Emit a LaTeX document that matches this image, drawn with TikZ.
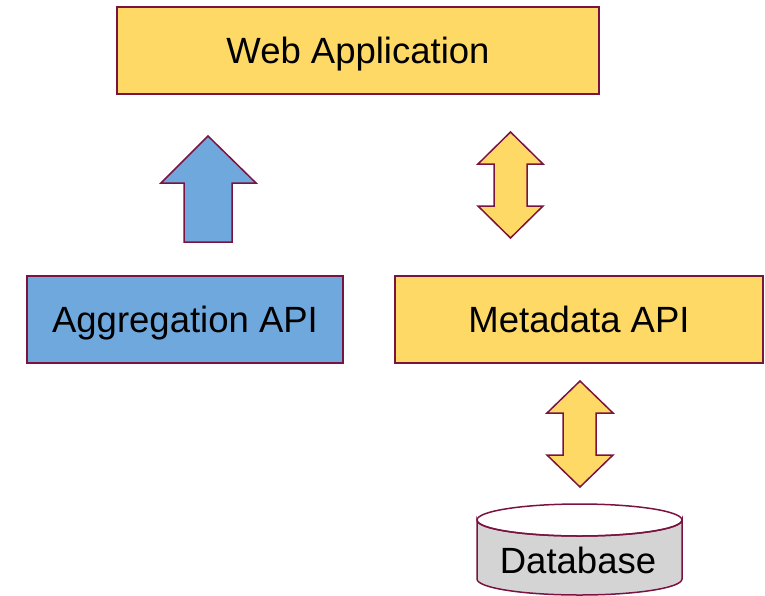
\documentclass[tikz,border=0pt]{standalone}
\usepackage{fontspec}
\setmainfont{Liberation Sans}
\definecolor{edge}{HTML}{7B1340}
\definecolor{gold}{HTML}{FFD966}
\definecolor{sky}{HTML}{6FA8DC}
\definecolor{dbgray}{HTML}{D4D4D4}
\begin{document}
\begin{tikzpicture}[x=1pt,y=-1pt,
  box/.style={draw=edge, line width=1.5pt, inner sep=0pt, outer sep=0pt, minimum height=87pt},
  lbl/.style={font=\fontsize{36.5}{40}\selectfont, text height=26pt, text depth=0pt},
  blockarrow/.style={draw=edge, line width=1.5pt, line join=miter}]
\useasboundingbox (0,0) rectangle (765,595);
\node[box, fill=gold, minimum width=482pt, lbl] (web) at (358,50.5) {Web Application};
\node[box, fill=sky, minimum width=316pt, lbl] (agg) at (185,319.5) {Aggregation API};
\node[box, fill=gold, minimum width=368pt, lbl] (meta) at (579,319.5) {Metadata API};
% up arrow
\draw[blockarrow, fill=sky] (208,136) -- (256,183) -- (232,183) -- (232,242) -- (184,242) -- (184,183) -- (161,183) -- cycle;
% double arrow web <-> metadata
\draw[blockarrow, fill=gold] (510.5,132) -- (543,164) -- (527,164) -- (527,206) -- (543,206) -- (510.5,238) -- (478,206) -- (494,206) -- (494,164) -- (478,164) -- cycle;
% double arrow metadata <-> database
\draw[blockarrow, fill=gold] (580,381) -- (613,413) -- (596,413) -- (596,455) -- (613,455) -- (580,487) -- (547,455) -- (563,455) -- (563,413) -- (547,413) -- cycle;
% database cylinder
\draw[blockarrow, fill=dbgray] (477,520) -- (477,579) arc[start angle=180, end angle=0, x radius=102.5, y radius=16] -- (682,520) arc[start angle=0, end angle=180, x radius=102.5, y radius=16] -- cycle;
\draw[blockarrow] (579.5,520) ellipse[x radius=102.5, y radius=16];
\node[lbl, inner sep=0pt] (db) at (578,560) {Database};
\end{tikzpicture}
\end{document}
